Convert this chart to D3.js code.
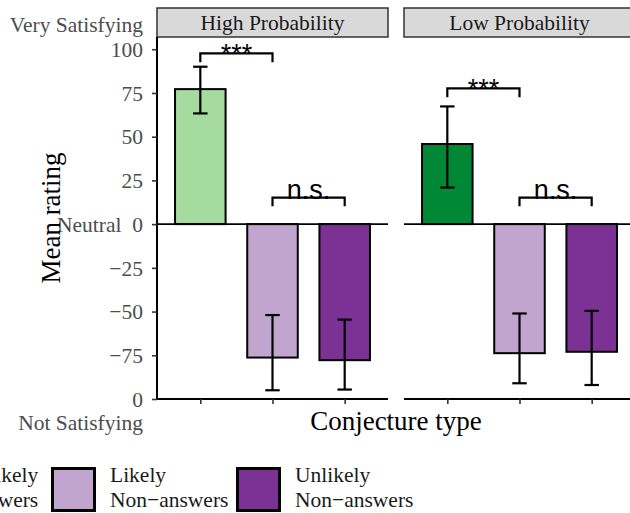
<!DOCTYPE html>
<html>
<head>
<meta charset="utf-8">
<script src="https://cdn.jsdelivr.net/npm/d3@7"></script>
<style>
  html, body { margin: 0; padding: 0; background: #fff; }
  svg { display: block; }
  text { font-family: "Liberation Serif", "Times New Roman", serif; }
  .sig { font-family: "Liberation Sans", Arial, sans-serif; }
</style>
</head>
<body>
<div id="chart"></div>
<script>
// ---- data ----
const panels = ["High Probability", "Low Probability"];
const types = ["Answers", "Likely Non-answers", "Unlikely Non-answers"];

const meanHigh  = [77.2, -76.3, -77.8];
const lowerHigh = [63.3, -95.0, -94.6];
const upperHigh = [90.0, -52.0, -54.6];

const meanLow  = [45.8, -73.8, -73.0];
const lowerLow = [20.9, -91.0, -92.0];
const upperLow = [67.3, -51.1, -49.6];

const fillHigh = ["#a6dba0", "#c2a5cf", "#7b3294"];
const fillLow  = ["#008837", "#c2a5cf", "#7b3294"];

// significance brackets: [from index, to index, y, label]
const sigHigh = [[0, 1, 97.6, "***"], [1, 2, 15.2, "n.s."]];
const sigLow  = [[0, 1, 77.6, "***"], [1, 2, 15.2, "n.s."]];

const yTicks = [100, 75, 50, 25, 0, -25, -50, -75, -100];
const yTickLabels = ["100", "75", "50", "25", "Neutral\u00a0\u00a00", "\u221225", "\u221250", "\u221275", "0"];

const legendLabels = [["Likely", "Answers"], ["Unlikely", "Answers"], ["Likely", "Non\u2212answers"], ["Unlikely", "Non\u2212answers"]];
const legendFills = ["#a6dba0", "#008837", "#c2a5cf", "#7b3294"];

const panelData = [
  { name: panels[0], mean: meanHigh, lo: lowerHigh, hi: upperHigh, fill: fillHigh, sig: sigHigh },
  { name: panels[1], mean: meanLow,  lo: lowerLow,  hi: upperLow,  fill: fillLow,  sig: sigLow }
];

// ---- layout ----
const W = 630, H = 513;
const plotTop = 37, plotBottom = 399;
const panelW = 231, panelGap = 16, firstPanelX = 157;
const labelSize = "21.5px";

const svg = d3.select("#chart").append("svg")
  .attr("width", W).attr("height", H);

const y = d3.scaleLinear().domain([-100, 107]).range([plotBottom, plotTop]);
const x = d3.scalePoint().domain(types).range([0, panelW]).padding(0.6);
const step = x.step();
const barW = step * 0.7;
const capW = step * 0.2;

panelData.forEach((p, pi) => {
  const px = firstPanelX + pi * (panelW + panelGap);
  const g = svg.append("g").attr("transform", `translate(${px},0)`);

  // strip
  g.append("rect")
    .attr("x", 0).attr("y", 8)
    .attr("width", panelW).attr("height", plotTop - 8)
    .attr("fill", "#d9d9d9").attr("stroke", "#333").attr("stroke-width", 1.5);
  g.append("text")
    .attr("x", panelW / 2).attr("y", 30)
    .attr("text-anchor", "middle")
    .style("font-size", labelSize).style("fill", "#1a1a1a")
    .text(p.name);

  // bars
  types.forEach((t, i) => {
    const v = p.mean[i];
    g.append("rect")
      .attr("x", x(t) - barW / 2)
      .attr("y", y(Math.max(0, v)))
      .attr("width", barW)
      .attr("height", Math.abs(y(v) - y(0)))
      .attr("fill", p.fill[i])
      .attr("stroke", "#000").attr("stroke-width", 2);
  });

  // zero line
  g.append("line")
    .attr("x1", 0).attr("x2", panelW)
    .attr("y1", y(0)).attr("y2", y(0))
    .attr("stroke", "#000").attr("stroke-width", 1.8);

  // error bars
  types.forEach((t, i) => {
    const cx = x(t);
    const eb = g.append("g").attr("stroke", "#000").attr("stroke-width", 2.2);
    eb.append("line").attr("x1", cx).attr("x2", cx).attr("y1", y(p.lo[i])).attr("y2", y(p.hi[i]));
    eb.append("line").attr("x1", cx - capW / 2).attr("x2", cx + capW / 2).attr("y1", y(p.lo[i])).attr("y2", y(p.lo[i]));
    eb.append("line").attr("x1", cx - capW / 2).attr("x2", cx + capW / 2).attr("y1", y(p.hi[i])).attr("y2", y(p.hi[i]));
  });

  // significance brackets
  p.sig.forEach(([a, b, yv, lab]) => {
    const x1 = x(types[a]), x2 = x(types[b]);
    g.append("path")
      .attr("d", `M${x1},${y(yv - 5)}V${y(yv)}H${x2}V${y(yv - 5)}`)
      .attr("fill", "none").attr("stroke", "#000").attr("stroke-width", 2.2);
    g.append("text")
      .attr("class", "sig")
      .attr("x", (x1 + x2) / 2)
      .attr("y", lab === "***" ? y(yv - 5) + 1 : y(yv) + 1)
      .attr("text-anchor", "middle")
      .style("font-size", "27px").style("fill", "#000")
      .text(lab);
  });

  // x axis
  const xAxis = g.append("g")
    .attr("transform", `translate(0,${plotBottom})`)
    .call(d3.axisBottom(x).tickSize(5).tickFormat(""));
  xAxis.select(".domain").attr("stroke", "#000").attr("stroke-width", 2)
    .attr("d", `M0,0H${panelW}`);
  xAxis.selectAll(".tick line").attr("stroke", "#333").attr("stroke-width", 1.6);

  // y axis on first panel only
  if (pi === 0) {
    const yAxis = g.append("g")
      .call(d3.axisLeft(y).tickValues(yTicks).tickSize(5)
        .tickFormat((d, i) => yTickLabels[i]));
    yAxis.select(".domain").attr("stroke", "#000").attr("stroke-width", 2)
      .attr("d", `M0,${plotTop}V${plotBottom}`);
    yAxis.selectAll(".tick line").attr("stroke", "#333").attr("stroke-width", 1.6);
    yAxis.selectAll(".tick text")
      .attr("x", -14)
      .attr("dy", "0.34em")
      .style("font-family", '"Liberation Serif", serif')
      .style("font-size", labelSize)
      .style("fill", "#4d4d4d");

    // end annotations
    g.append("text")
      .attr("x", -14).attr("y", y(100) - 17)
      .attr("text-anchor", "end")
      .style("font-size", labelSize).style("fill", "#4d4d4d")
      .text("Very Satisfying");
    g.append("text")
      .attr("x", -14).attr("y", y(-100) + 31)
      .attr("text-anchor", "end")
      .style("font-size", labelSize).style("fill", "#4d4d4d")
      .text("Not Satisfying");
  }
});

// axis titles
const totalRight = firstPanelX + 2 * panelW + panelGap;
svg.append("text")
  .attr("x", (firstPanelX + totalRight) / 2).attr("y", 430)
  .attr("text-anchor", "middle")
  .style("font-size", "27px").style("fill", "#000")
  .text("Conjecture type");

svg.append("text")
  .attr("transform", `translate(60,${(plotTop + plotBottom) / 2}) rotate(-90)`)
  .attr("text-anchor", "middle")
  .style("font-size", "27px").style("fill", "#000")
  .text("Mean rating");

// legend
const legendBoxX = [-285, -96, 51, 236];
const legend = svg.append("g");
legendLabels.forEach((lab, i) => {
  const lg = legend.append("g").attr("transform", `translate(${legendBoxX[i]},467)`);
  lg.append("rect")
    .attr("x", 1.5).attr("y", 1.5)
    .attr("width", 42).attr("height", 42)
    .attr("fill", legendFills[i])
    .attr("stroke", "#000").attr("stroke-width", 3);
  lg.append("text")
    .attr("x", 59).attr("y", 15)
    .style("font-size", labelSize).style("fill", "#1a1a1a")
    .text(lab[0]);
  lg.append("text")
    .attr("x", 59).attr("y", 40)
    .style("font-size", labelSize).style("fill", "#1a1a1a")
    .text(lab[1]);
});
</script>
</body>
</html>
